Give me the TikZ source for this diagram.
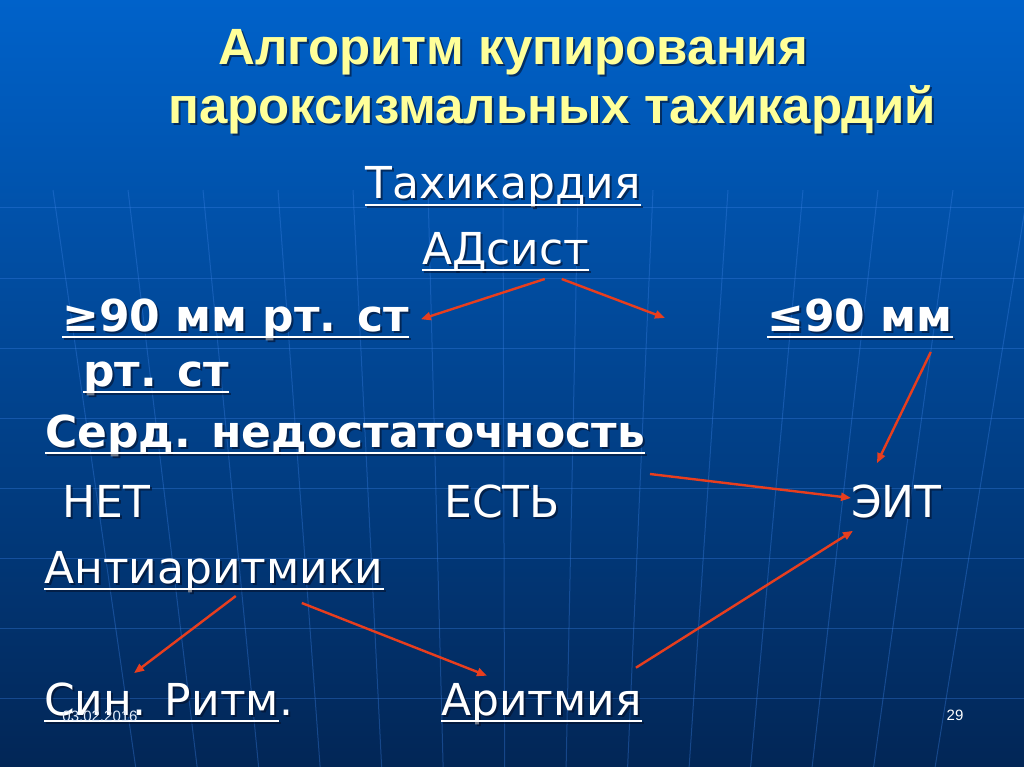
\documentclass[tikz,border=0pt]{standalone}
\usepackage{fontspec}
\setmainfont{DejaVu Sans}
\newfontfamily\titlefont{Liberation Sans}
\usetikzlibrary{arrows.meta,positioning,calc}

\definecolor{slidetop}{RGB}{0,98,202}
\definecolor{slidemid}{RGB}{6,70,152}
\definecolor{slidebot}{RGB}{2,38,86}
\definecolor{gridblue}{RGB}{60,130,230}
\definecolor{titleyellow}{RGB}{255,255,153}
\definecolor{arrowred}{RGB}{232,62,30}
\definecolor{shadowc}{RGB}{5,15,40}

\tikzset{
  body/.style={inner sep=0pt, text=white, font=\fontsize{44}{50}\selectfont},
  bodybf/.style={body, font=\fontsize{44}{50}\selectfont\bfseries},
  ttl/.style={inner sep=0pt, text=titleyellow, font=\titlefont\bfseries\fontsize{51}{56}\selectfont},
  small/.style={inner sep=0pt, text=white, font=\titlefont\fontsize{15}{18}\selectfont},
  uline/.style={draw=white, line width=2.6pt},
  ushadow/.style={draw=shadowc, opacity=.55, line width=2.6pt},
  link/.style={-{Triangle[length=10pt,width=8pt]}, draw=arrowred, line width=2.4pt},
  gridline/.style={draw=gridblue, opacity=.35, line width=1pt}
}

% text with a drop shadow: name, position, style, text
\newcommand{\slidetxt}[4]{%
  \node[#3, anchor=base west, text=shadowc, opacity=.6, xshift=2pt, yshift=-2pt] at (#2) {#4};
  \node[#3, anchor=base west] (#1) at (#2) {#4};
}
% underline below a named text node
\newcommand{\ulnode}[1]{%
  \draw[ushadow] ([xshift=2pt,yshift=-8pt]#1.base west) -- ([xshift=2pt,yshift=-8pt]#1.base east);
  \draw[uline] ([yshift=-6pt]#1.base west) -- ([yshift=-6pt]#1.base east);
}

\begin{document}
\begin{tikzpicture}[x=1pt, y=-1pt]
\useasboundingbox (0,0) rectangle (1024,767);

% background and globe grid
\shade[top color=slidetop, middle color=slidemid, bottom color=slidebot] (0,0) rectangle (1024,767);
\foreach \y in {208,278,...,698}
  \draw[gridline] (0,\y) -- (1024,\y);
\foreach \x in {53,128,...,1028}
  \draw[gridline] (\x,190) -- ({512+(\x-512)*0.82},767);

% title
\slidetxt{title1}{218,65}{ttl}{Алгоритм купирования}
\slidetxt{title2}{168,124}{ttl}{пароксизмальных тахикардий}

% algorithm steps
\slidetxt{tach}{365,199}{body}{Тахикардия}
\slidetxt{adsist}{422,264}{body}{АДсист}
\slidetxt{hi}{62,331}{bodybf}{≥90 мм рт. ст}
\slidetxt{hirest}{83,386}{bodybf}{рт. ст}
\slidetxt{lo}{767,331}{bodybf}{≤90 мм}
\slidetxt{chf}{45,447}{bodybf}{Серд. недостаточность}
\slidetxt{no}{62,517}{body}{НЕТ}
\slidetxt{yes}{444,517}{body}{ЕСТЬ}
\slidetxt{eit}{851,517}{body}{ЭИТ}
\slidetxt{anti}{44,583}{body}{Антиаритмики}
\slidetxt{sinus}{44,715}{body}{Син. Ритм}
\slidetxt{sinusdot}{sinus.base east}{body}{.}
\slidetxt{arrh}{441,715}{body}{Аритмия}

\ulnode{tach}
\ulnode{adsist}
\ulnode{hi}
\ulnode{hirest}
\ulnode{lo}
\ulnode{chf}
\ulnode{anti}
\ulnode{sinus}
\ulnode{arrh}

% footer
\node[small, text=white!85!gridblue] (date) at (100,716) {03.02.2016};
\node[small] (page) at (955,715) {29};

% arrows
\coordinate (gap) at (665,318);
\draw[link] ([xshift=39pt,yshift=-15pt]adsist.base) -- ([xshift=12pt]hi.east);
\draw[link] ([xshift=56pt,yshift=-15pt]adsist.base) -- (gap);
\draw[link] ([xshift=-22pt,yshift=-21pt]lo.base east) -- ([xshift=26pt,yshift=21pt]eit.north west);
\draw[link] ([xshift=5pt,yshift=-27pt]chf.base east) -- ([yshift=3pt]eit.west);
\draw[link] ([xshift=22pt,yshift=-13pt]anti.base) -- ([xshift=90pt,yshift=9pt]sinus.north west);
\draw[link] ([xshift=88pt,yshift=-20pt]anti.base) -- ([xshift=46pt,yshift=7pt]arrh.north west);
\draw[link] ([xshift=-6pt,yshift=15pt]arrh.north east) -- ([xshift=2pt,yshift=-13pt]eit.south west);

\end{tikzpicture}
\end{document}
